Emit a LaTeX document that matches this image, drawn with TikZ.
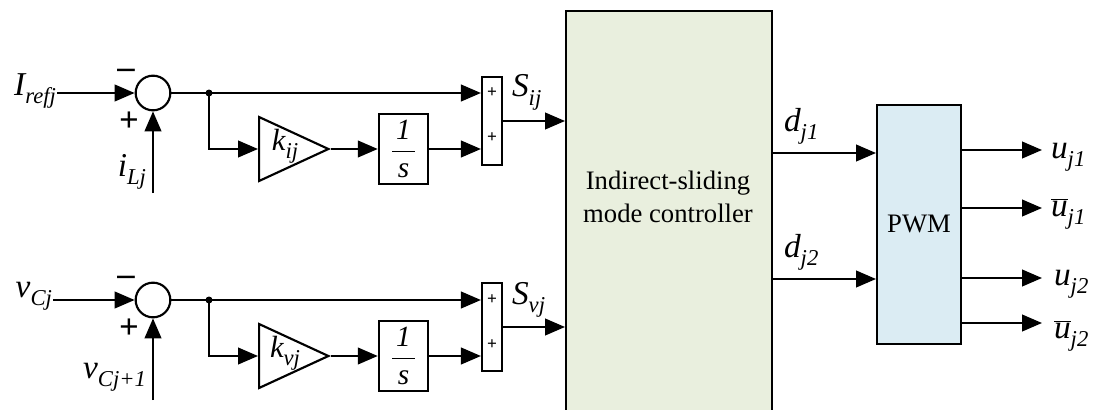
\documentclass[tikz,border=0pt]{standalone}
\usepackage{fontspec}
\setmainfont{Liberation Serif}
\usetikzlibrary{positioning, arrows.meta, shapes.geometric}
\definecolor{smcgreen}{RGB}{233,239,222}
\definecolor{pwmblue}{RGB}{219,236,243}
\newcommand{\subtx}[1]{{\fontsize{17}{18}\selectfont\itshape\raisebox{-6pt}{#1}}}
\newcommand{\sig}[2]{{\itshape #1}\subtx{#2}}
\newcommand{\sigbar}[2]{{\itshape$\overline{\mbox{#1}}$}\subtx{#2}}
\newcommand{\intg}{$\displaystyle\frac{\makebox[17pt]{\itshape 1}}{\mbox{\itshape s}}$}

\begin{document}
\begin{tikzpicture}[x=0.75pt, y=-0.75pt, >={Triangle[length=15pt, width=12.5pt]},
          font=\fontsize{25}{28}\selectfont, line width=1.6pt,
          sj/.style ={circle, draw, minimum size=26pt, inner sep=0pt},
          gb/.style ={isosceles triangle, isosceles triangle stretches, draw,
                      minimum width=48pt, minimum height=52pt, inner sep=0pt, anchor=west},
          ib/.style ={rectangle, draw, minimum width=37pt, minimum height=53pt, inner sep=0pt,
                      font=\fontsize{22}{24}\selectfont},
          sb/.style ={rectangle, draw, minimum width=15pt, minimum height=66pt, inner sep=0pt},
          pl/.style ={font=\fontsize{13}{13}\selectfont\bfseries, inner sep=0pt},
          sg/.style ={font=\fontsize{26}{26}\selectfont\bfseries, inner sep=0pt},
          lbl/.style={inner sep=0pt},
          bx/.style ={draw, line width=1.6pt, inner sep=0pt, anchor=north west}]
        \useasboundingbox (0,0) rectangle (1095,410);
        \node[sj] (e1) at (153,93) {};
        \node[lbl, anchor=base east] (iref) at (57,95) {\sig{I}{refj}};
        \node[lbl, anchor=base east] (iL) at (147,176) {\sig{i}{Lj}};
        \node[sg] (m1) at (126,74) {--};
        \node[sg] (q1) at (129,122) {+};
        \coordinate (iLs) at (153,193);
        \coordinate (j1) at (209,93);
        \node[gb] (k1) at (258,149) {};
        \node[lbl, font=\fontsize{23}{25}\selectfont] (k1t) at (285,146.5) {\sig{k}{ij}};
        \node[ib] (int1) at (403.5,149) {\intg};
        \node[sb] (a1) at (492,121) {};
        \node[pl] (a1p) at (492,93) {+};
        \node[pl] (a1q) at (492,138) {+};
        \node[lbl, anchor=base west] (sij) at (511,97) {\sig{S}{ij}};
        \draw[->] (iref.east |- e1) -- (e1.west);
        \draw[->] (iLs) -- (e1.south);
        \draw (e1.east) -- (j1);
        \fill (j1) circle (3.5);
        \draw[->] (j1) -- (a1.west |- j1);
        \draw[->] (j1) |- (k1.west);
        \draw[->] (k1.apex) -- (int1.west);
        \draw[->] (int1.east) -- (a1.west |- int1);
        \node[sj] (e2) at (153,300) {};
        \node[lbl, anchor=base east] (vc) at (53,297) {\sig{v}{Cj}};
        \node[lbl, anchor=base east] (vcn) at (147,378) {\sig{v}{Cj+1}};
        \node[sg] (m2) at (126,281) {--};
        \node[sg] (q2) at (129,329) {+};
        \coordinate (vcs) at (153,400);
        \coordinate (j2) at (209,300);
        \node[gb] (k2) at (258,356) {};
        \node[lbl, font=\fontsize{23}{25}\selectfont] (k2t) at (285,353.5) {\sig{k}{vj}};
        \node[ib] (int2) at (403.5,356) {\intg};
        \node[sb] (a2) at (492,327) {};
        \node[pl] (a2p) at (492,300) {+};
        \node[pl] (a2q) at (492,345) {+};
        \node[lbl, anchor=base west] (svj) at (511,304) {\sig{S}{vj}};
        \draw[->] (vc.east |- e2) -- (e2.west);
        \draw[->] (vcs) -- (e2.south);
        \draw (e2.east) -- (j2);
        \fill (j2) circle (3.5);
        \draw[->] (j2) -- (a2.west |- j2);
        \draw[->] (j2) |- (k2.west);
        \draw[->] (k2.apex) -- (int2.west);
        \draw[->] (int2.east) -- (a2.west |- int2);
        \node[bx, fill=smcgreen, minimum width=154.5pt, minimum height=310pt] (smc) at (565,10) {};
        \node[font=\fontsize{20}{25}\selectfont, align=center] (smct) at (668,197)
              {Indirect-sliding\\mode controller};
        \draw[->] (a1.east) -- (smc.west |- a1.east);
        \draw[->] (a2.east) -- (smc.west |- a2.east);
        \node[bx, fill=pwmblue, minimum width=63pt, minimum height=179pt] (pwm) at (876,104)
              {\fontsize{20}{24}\selectfont PWM};
        \coordinate (pin1) at (876,153);
        \coordinate (pin2) at (876,279);
        \node[lbl, anchor=base west] (d1) at (783,131) {\sig{d}{j1}};
        \node[lbl, anchor=base west] (d2) at (783,257) {\sig{d}{j2}};
        \draw[->] (smc.east |- pin1) -- (pin1);
        \draw[->] (smc.east |- pin2) -- (pin2);
        \coordinate (o1) at (1042,150);
        \coordinate (o2) at (1042,208);
        \coordinate (o3) at (1042,278);
        \coordinate (o4) at (1042,323);
        \draw[->] (pwm.east |- o1) -- (o1);
        \draw[->] (pwm.east |- o2) -- (o2);
        \draw[->] (pwm.east |- o3) -- (o3);
        \draw[->] (pwm.east |- o4) -- (o4);
        \node[lbl, anchor=base west] (u1) at (1050,158) {\sig{u}{j1}};
        \node[lbl, anchor=base west] (ub1) at (1050,216) {\sigbar{u}{j1}};
        \node[lbl, anchor=base west] (u2) at (1053,285) {\sig{u}{j2}};
        \node[lbl, anchor=base west] (ub2) at (1053,338) {\sigbar{u}{j2}};
      \end{tikzpicture}
\end{document}
